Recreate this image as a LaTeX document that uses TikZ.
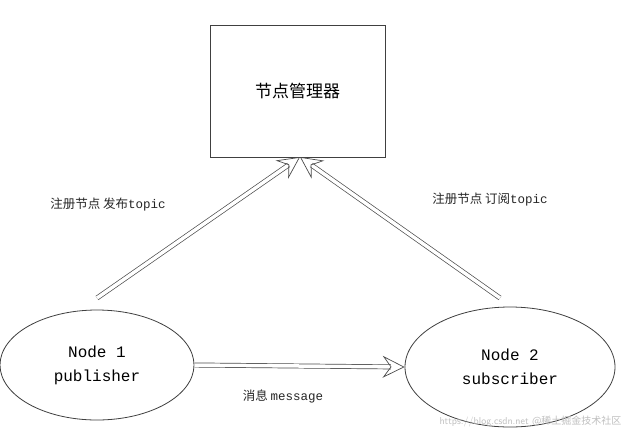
\documentclass[tikz,border=0pt]{standalone}
\usepackage{fontspec}
\setmonofont{Liberation Mono}
\newfontfamily\cjk{Noto Sans CJK SC}
\usetikzlibrary{arrows.meta,shapes.geometric}
\begin{document}
\begin{tikzpicture}[x=1pt,y=-1pt,
  ln/.style={draw=black!75,line width=0.8pt},
  flow/.style={draw=black!70,double=white,double distance=3.5pt,line width=0.7pt,
    -{Stealth[open,length=22pt,width=22pt,inset=8pt]}},
  nd/.style={ln,ellipse,inner sep=0,align=center,font=\ttfamily\fontsize{16}{24}\selectfont},
  lbl/.style={font=\fontsize{12.5}{14}\selectfont, text=black!85}]
\useasboundingbox[fill=white] (0,0) rectangle (631,442);
\node[ln,minimum width=175pt,minimum height=132pt,inner sep=0,font=\cjk\fontsize{17}{20}\selectfont] (mgr) at (297.5,91) {节点管理器};
\node[nd,minimum width=194pt,minimum height=110pt] (n1) at (97,365) {Node 1\\publisher};
\node[nd,minimum width=210pt,minimum height=120pt] (n2) at (510,367) {Node 2\\subscriber};
\coordinate (t) at (300,157);
\coordinate (a1) at (97,298);
\coordinate (a2) at (500,298);
\draw[flow] (a1) -- (t);
\draw[flow] (a2) -- (t);
\draw[flow] (n1.east) -- (n2.west);
\node[lbl] (l1) at (108,205) {\cjk 注册节点\ 发布\ttfamily topic};
\node[lbl] (l2) at (490,200) {\cjk 注册节点\ 订阅\ttfamily topic};
\node[lbl] (l3) at (283,396) {\cjk 消息\ \ttfamily message};
\node[text=black!25,font=\fontsize{10}{12}\selectfont,anchor=east] (wm) at (625,421) {\sffamily https://blog.csdn.net \cjk @稀土掘金技术社区};
\end{tikzpicture}
\end{document}
